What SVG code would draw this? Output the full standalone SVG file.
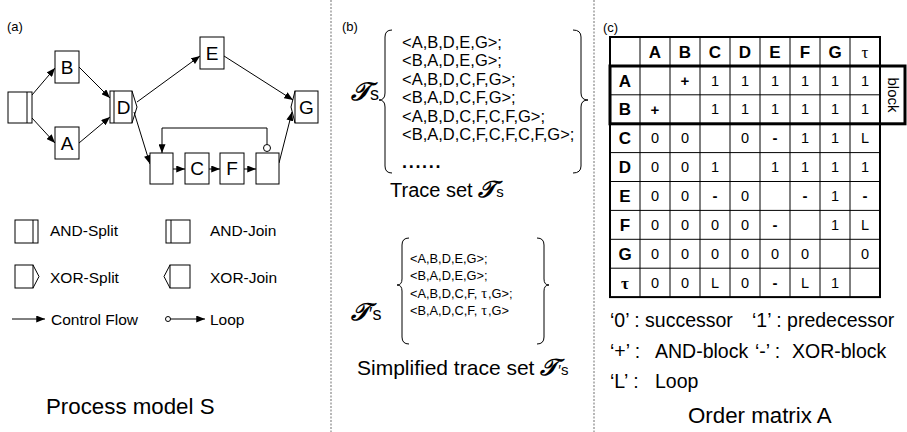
<svg xmlns="http://www.w3.org/2000/svg" width="907" height="432" viewBox="0 0 907 432">
<defs>
<marker id="ah" viewBox="0 0 10 8" refX="10" refY="4" markerWidth="9" markerHeight="7" markerUnits="userSpaceOnUse" orient="auto"><path d="M0,0 L10,4 L0,8 z" fill="#000"/></marker>
<style>
.bx{fill:#fff;stroke:#000;stroke-width:1}
.ln{fill:none;stroke:#000;stroke-width:1}
.e{fill:none;stroke:#000;stroke-width:1;marker-end:url(#ah)}
.nl{font-family:"Liberation Sans",Arial,sans-serif;font-size:19px;text-anchor:middle}
.lg{font-family:"Liberation Sans",Arial,sans-serif;font-size:15.5px}
.sm{font-family:"Liberation Sans",Arial,sans-serif;font-size:13px}
.tt{font-family:"Liberation Sans",Arial,sans-serif;font-size:22.3px}
.tr{font-family:"Liberation Sans",Arial,sans-serif;font-size:16.5px}
.tr2{font-family:"Liberation Sans",Arial,sans-serif;font-size:12.8px}
.sc{font-family:"DejaVu Serif","DejaVu Sans",serif;font-style:italic;font-weight:bold}
.ss{font-family:"Liberation Sans",Arial,sans-serif}
.div{stroke:#888;stroke-width:1.2;stroke-dasharray:2,1.5}
.hd{font-family:"Liberation Sans",Arial,sans-serif;font-size:17px;font-weight:bold;text-anchor:middle}
.cv{font-family:"Liberation Sans",Arial,sans-serif;font-size:14.5px;text-anchor:middle}
.cb{font-family:"Liberation Sans",Arial,sans-serif;font-size:15px;font-weight:bold;text-anchor:middle}
.tau{font-family:"Liberation Serif","DejaVu Serif",serif;font-size:17px;text-anchor:middle}
.gl{stroke:#000;stroke-width:1}
.lc{font-family:"Liberation Sans",Arial,sans-serif;font-size:19.5px}
</style>
</defs>
<rect width="907" height="432" fill="#fff"/>

<!-- dividers -->
<line class="div" x1="331" y1="0" x2="331" y2="432"/>
<line class="div" x1="594" y1="0" x2="594" y2="432"/>

<!-- Panel (a) -->
<text class="sm" x="7" y="31">(a)</text>

<g id="connectors">
<path class="e" d="M32,95 L55,68"/>
<path class="e" d="M32,118 L55,143"/>
<path class="e" d="M79,67 L110,98"/>
<path class="e" d="M79,143 L110,117"/>
<path class="e" d="M137,102 L200,56"/>
<path class="e" d="M224,56 L293,100"/>
<path class="e" d="M134,112 L150,164"/>
<path class="e" d="M279,163 L292,112"/>
<path class="e" d="M173,169 L185,169"/>
<path class="e" d="M209,169 L220,169"/>
<path class="e" d="M244,169 L256,169"/>
<path class="e" d="M267,144.5 V128 H162 V153"/>
<circle cx="267" cy="148" r="3.5" fill="#fff" stroke="#000"/>
</g>

<g id="node-start"><rect class="bx" x="8" y="92" width="24" height="31"/><line class="ln" x1="27" y1="92" x2="27" y2="123"/></g>
<g id="node-B"><rect class="bx" x="55" y="51" width="24" height="32"/><text class="nl" x="67" y="73.8">B</text></g>
<g id="node-A"><rect class="bx" x="55" y="127" width="24" height="32"/><text class="nl" x="67" y="149.8">A</text></g>
<g id="node-D"><rect class="bx" x="110" y="91" width="22" height="32"/><line class="ln" x1="114" y1="91" x2="114" y2="123"/><polyline class="ln" points="132,91 137,107 132,123"/><text class="nl" x="123.5" y="113.8">D</text></g>
<g id="node-E"><rect class="bx" x="200" y="37" width="24" height="32"/><text class="nl" x="212" y="59.8">E</text></g>
<g id="node-G"><rect class="bx" x="295" y="91" width="23" height="32"/><polyline class="ln" points="295,91 291,107 295,123"/><text class="nl" x="306.5" y="113.8">G</text></g>
<g id="node-X1"><rect class="bx" x="150" y="153" width="23" height="31"/></g>
<g id="node-C"><rect class="bx" x="185" y="153" width="24" height="31"/><text class="nl" x="197" y="175.3">C</text></g>
<g id="node-F"><rect class="bx" x="220" y="153" width="24" height="31"/><text class="nl" x="232" y="175.3">F</text></g>
<g id="node-X2"><rect class="bx" x="256" y="153" width="23" height="31"/></g>

<!-- legend (a) -->
<g id="legend-a">
<rect class="bx" x="15" y="220" width="23" height="23"/><line class="ln" x1="33" y1="220" x2="33" y2="243"/>
<text class="lg" x="50" y="236">AND-Split</text>
<rect class="bx" x="166" y="220" width="24" height="23"/><line class="ln" x1="171" y1="220" x2="171" y2="243"/>
<text class="lg" x="210" y="236">AND-Join</text>
<rect class="bx" x="15" y="265" width="18" height="23"/><polyline class="ln" points="33,265 39,276.5 33,288"/>
<text class="lg" x="50" y="283">XOR-Split</text>
<rect class="bx" x="170" y="265" width="20" height="23"/><polyline class="ln" points="170,265 164,276.5 170,288"/>
<text class="lg" x="210" y="283">XOR-Join</text>
<path class="e" d="M12,319 L45,319"/>
<text class="lg" x="51" y="325">Control Flow</text>
<circle cx="168" cy="319" r="2.5" fill="#fff" stroke="#000"/>
<path class="e" d="M170.5,319 L205,319"/>
<text class="lg" x="210" y="325">Loop</text>
</g>
<text class="tt" x="46" y="414">Process model S</text>

<!-- Panel (b) -->
<text class="sm" x="342" y="31">(b)</text>
<text x="351" y="100"><tspan class="sc" font-size="25">𝒯</tspan><tspan class="ss" font-size="18">s</tspan></text>
<path class="ln" d="M392,30 Q385,30 385,37 V93 Q385,100 379,100 Q385,100 385,107 V166 Q385,173 392,173"/>
<path class="ln" d="M573,30 Q581,30 581,37 V93 Q581,100 588,100 Q581,100 581,107 V166 Q581,173 573,173"/>
<g class="tr">
<text x="402" y="47.5">&lt;A,B,D,E,G&gt;;</text>
<text x="402" y="66">&lt;B,A,D,E,G&gt;;</text>
<text x="402" y="84.5">&lt;A,B,D,C,F,G&gt;;</text>
<text x="402" y="103">&lt;B,A,D,C,F,G&gt;;</text>
<text x="402" y="121.5">&lt;A,B,D,C,F,C,F,G&gt;;</text>
<text x="402" y="140">&lt;B,A,D,C,F,C,F,C,F,G&gt;;</text>
<text x="402" y="168" font-weight="bold" font-size="18" letter-spacing="1.7">......</text>
</g>
<text x="390" y="197"><tspan class="ss" font-size="20">Trace set </tspan><tspan class="sc" font-size="23">𝒯</tspan><tspan class="ss" font-size="15">s</tspan></text>

<text x="351" y="320"><tspan class="sc" font-size="24">𝒯</tspan><tspan class="ss" font-size="18">′s</tspan></text>
<path class="ln" d="M409,238 Q402,238 402,245 V279 Q402,285 397,285 Q402,285 402,291 V337 Q402,344 409,344"/>
<path class="ln" d="M537,238 Q544,238 544,245 V279 Q544,285 549,285 Q544,285 544,291 V337 Q544,344 537,344"/>
<g class="tr2">
<text x="410" y="263">&lt;A,B,D,E,G&gt;;</text>
<text x="410" y="280">&lt;B,A,D,E,G&gt;;</text>
<text x="410" y="297.5">&lt;A,B,D,C,F,<tspan dx="4" font-family="Liberation Serif,serif" font-size="14.5">τ</tspan><tspan dx="1">,G&gt;;</tspan></text>
<text x="410" y="315">&lt;B,A,D,C,F,<tspan dx="4" font-family="Liberation Serif,serif" font-size="14.5">τ</tspan><tspan dx="1">,G&gt;</tspan></text>
</g>
<text x="357" y="375"><tspan class="ss" font-size="21">Simplified trace set </tspan><tspan class="sc" font-size="23">𝒯</tspan><tspan class="ss" font-size="15">′s</tspan></text>

<!-- Panel (c) -->
<text class="sm" x="603" y="32">(c)</text>
<g id="matrix">
<g class="gl">
<line x1="610" y1="65.9" x2="880" y2="65.9"/>
<line x1="610" y1="94.8" x2="880" y2="94.8"/>
<line x1="610" y1="123.7" x2="880" y2="123.7"/>
<line x1="610" y1="152.6" x2="880" y2="152.6"/>
<line x1="610" y1="181.5" x2="880" y2="181.5"/>
<line x1="610" y1="210.4" x2="880" y2="210.4"/>
<line x1="610" y1="239.3" x2="880" y2="239.3"/>
<line x1="610" y1="268.2" x2="880" y2="268.2"/>
<line x1="640" y1="37" x2="640" y2="297.1"/>
<line x1="670" y1="37" x2="670" y2="297.1"/>
<line x1="700" y1="37" x2="700" y2="297.1"/>
<line x1="730" y1="37" x2="730" y2="297.1"/>
<line x1="760" y1="37" x2="760" y2="297.1"/>
<line x1="790" y1="37" x2="790" y2="297.1"/>
<line x1="820" y1="37" x2="820" y2="297.1"/>
<line x1="850" y1="37" x2="850" y2="297.1"/>
</g>
<rect x="610" y="37" width="270" height="260.1" fill="none" stroke="#000" stroke-width="2"/>
<rect x="610" y="66" width="295" height="57.8" fill="none" stroke="#000" stroke-width="3"/>
<line x1="880" y1="66" x2="880" y2="124" stroke="#000" stroke-width="2"/>
<text class="ss" transform="translate(888,95) rotate(90)" text-anchor="middle" font-size="15">block</text>

<!-- header -->
<text class="hd" x="655" y="57.5">A</text><text class="hd" x="685" y="57.5">B</text><text class="hd" x="715" y="57.5">C</text><text class="hd" x="745" y="57.5">D</text><text class="hd" x="775" y="57.5">E</text><text class="hd" x="805" y="57.5">F</text><text class="hd" x="835" y="57.5">G</text><text class="tau" x="865" y="57.5">τ</text>
<!-- row headers -->
<text class="hd" x="625" y="86.5">A</text>
<text class="hd" x="625" y="115.4">B</text>
<text class="hd" x="625" y="144.3">C</text>
<text class="hd" x="625" y="173.2">D</text>
<text class="hd" x="625" y="202.1">E</text>
<text class="hd" x="625" y="231">F</text>
<text class="hd" x="625" y="259.9">G</text>
<text class="tau" x="625" y="288.8" font-weight="bold">τ</text>
<!-- row A -->
<text class="cb" x="685" y="86">+</text><text class="cv" x="715" y="85.5">1</text><text class="cv" x="745" y="85.5">1</text><text class="cv" x="775" y="85.5">1</text><text class="cv" x="805" y="85.5">1</text><text class="cv" x="835" y="85.5">1</text><text class="cv" x="865" y="85.5">1</text>
<!-- row B -->
<text class="cb" x="655" y="115">+</text><text class="cv" x="715" y="114.4">1</text><text class="cv" x="745" y="114.4">1</text><text class="cv" x="775" y="114.4">1</text><text class="cv" x="805" y="114.4">1</text><text class="cv" x="835" y="114.4">1</text><text class="cv" x="865" y="114.4">1</text>
<!-- row C -->
<text class="cv" x="655" y="143.3">0</text><text class="cv" x="685" y="143.3">0</text><text class="cv" x="745" y="143.3">0</text><text class="cb" x="775" y="143.3">-</text><text class="cv" x="805" y="143.3">1</text><text class="cv" x="835" y="143.3">1</text><text class="cv" x="865" y="143.3">L</text>
<!-- row D -->
<text class="cv" x="655" y="172.2">0</text><text class="cv" x="685" y="172.2">0</text><text class="cv" x="715" y="172.2">1</text><text class="cv" x="775" y="172.2">1</text><text class="cv" x="805" y="172.2">1</text><text class="cv" x="835" y="172.2">1</text><text class="cv" x="865" y="172.2">1</text>
<!-- row E -->
<text class="cv" x="655" y="201.1">0</text><text class="cv" x="685" y="201.1">0</text><text class="cb" x="715" y="201.1">-</text><text class="cv" x="745" y="201.1">0</text><text class="cb" x="805" y="201.1">-</text><text class="cv" x="835" y="201.1">1</text><text class="cb" x="865" y="201.1">-</text>
<!-- row F -->
<text class="cv" x="655" y="230">0</text><text class="cv" x="685" y="230">0</text><text class="cv" x="715" y="230">0</text><text class="cv" x="745" y="230">0</text><text class="cb" x="775" y="230">-</text><text class="cv" x="835" y="230">1</text><text class="cv" x="865" y="230">L</text>
<!-- row G -->
<text class="cv" x="655" y="258.9">0</text><text class="cv" x="685" y="258.9">0</text><text class="cv" x="715" y="258.9">0</text><text class="cv" x="745" y="258.9">0</text><text class="cv" x="775" y="258.9">0</text><text class="cv" x="805" y="258.9">0</text><text class="cv" x="865" y="258.9">0</text>
<!-- row tau -->
<text class="cv" x="655" y="287.8">0</text><text class="cv" x="685" y="287.8">0</text><text class="cv" x="715" y="287.8">L</text><text class="cv" x="745" y="287.8">0</text><text class="cb" x="775" y="287.8">-</text><text class="cv" x="805" y="287.8">L</text><text class="cv" x="835" y="287.8">1</text>
</g>

<g id="legend-c">
<text class="lc" x="610" y="327">‘0’ : successor</text>
<text class="lc" x="752" y="327">‘1’ : predecessor</text>
<text class="lc" x="610" y="358">‘+’ :</text>
<text class="lc" x="655" y="358">AND-block</text>
<text class="lc" x="755" y="358">‘-’ :</text>
<text class="lc" x="792" y="358">XOR-block</text>
<text class="lc" x="610" y="388">‘L’ :</text>
<text class="lc" x="655" y="388">Loop</text>
</g>
<text class="tt" x="688" y="423">Order matrix A</text>
</svg>
